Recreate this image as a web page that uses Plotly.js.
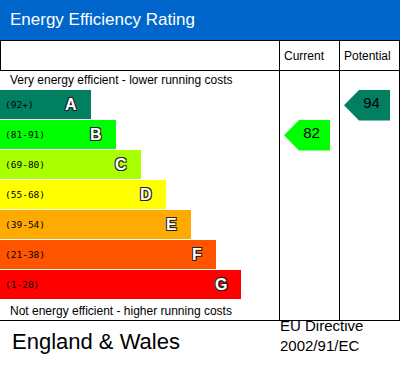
<!DOCTYPE html>
<html><head><meta charset="utf-8">
<script src="https://cdn.plot.ly/plotly-3.0.1.min.js"></script>
<style>html,body{margin:0;padding:0;background:#fff}</style>
</head><body><div id="chart" style="width:400px;height:370px"></div>
<script>
// ---- data ----
const bands = ['A','B','C','D','E','F','G'];
const bandRanges = ['(92+)','(81-91)','(69-80)','(55-68)','(39-54)','(21-38)','(1-20)'];
const bandMins = [92, 81, 69, 55, 39, 21, 1];
const bandSteps = [1, 2, 3, 4, 5, 6, 7];
const bandColors = ['#008060','#00ff00','#aaff00','#ffff00','#ffaa00','#ff5500','#ff0000'];
const columnLabels = ['Current', 'Potential'];
const ratings = [82, 94];
const chartTitle = 'Energy Efficiency Rating';
const topLabel = 'Very energy efficient - lower running costs';
const bottomLabel = 'Not energy efficient - higher running costs';
const regionLabel = 'England & Wales';
const directiveLines = ['EU Directive', '2002/91/EC'];

// ---- layout helpers ----
const W = 400, H = 370;
const px = x => x / W;
const py = y => 1 - y / H;
const FONT = 'Liberation Sans, Arial, sans-serif';
const AXIS_START = -2.64;
const bandIndex = s => bandMins.findIndex(m => s >= m);
const rowIdx = bands.map((_, i) => i);

const traces = [{
  type: 'bar', orientation: 'h',
  y: rowIdx, x: bandSteps.map(s => s - AXIS_START), base: AXIS_START, width: 29 / 30,
  marker: { color: bandColors, line: { width: 0 } },
  hoverinfo: 'skip', xaxis: 'x', yaxis: 'y'
}];

ratings.forEach((score, j) => {
  const idx = bandIndex(score);
  const top = idx - 0.5 + 0.5 / 30, bot = idx + 0.5 + 1 / 30, mid = (top + bot) / 2;
  const xa = j === 0 ? 'x2' : 'x3';
  traces.push({
    type: 'scatter', mode: 'lines', xaxis: xa, yaxis: 'y',
    x: [5, 20, 51, 51, 20, 5], y: [mid, top, top, bot, bot, mid],
    fill: 'toself', fillcolor: bandColors[idx], line: { width: 0 }, hoverinfo: 'skip'
  });
  traces.push({
    type: 'scatter', mode: 'text', xaxis: xa, yaxis: 'y',
    x: [32.5], y: [mid - 0.02], text: [String(score)],
    textfont: { family: FONT, size: 15, color: '#000' }, hoverinfo: 'skip'
  });
});

const line = (x0, y0, x1, y1) => ({
  type: 'line', xref: 'paper', yref: 'paper',
  x0: px(x0), x1: px(x1), y0: py(y0), y1: py(y1),
  line: { color: '#000', width: 1 }
});

const shapes = [
  { type: 'rect', xref: 'paper', yref: 'paper', x0: 0, x1: 1, y0: py(40), y1: 1,
    fillcolor: '#0066cc', line: { width: 0 }, layer: 'below' },
  line(0, 40.5, 400, 40.5),
  line(0, 70.5, 400, 70.5),
  line(0.5, 40.5, 0.5, 70.5),
  line(279.5, 40.5, 279.5, 320.5),
  line(339.5, 40.5, 339.5, 320.5),
  line(399.5, 40.5, 399.5, 320.5),
  line(0, 320.5, 400, 320.5)
];

const ann = (text, x, y, size, color, extra) => Object.assign({
  text, xref: 'paper', yref: 'paper', x: px(x), y: py(y),
  xanchor: 'left', yanchor: 'middle', showarrow: false,
  font: { family: FONT, size, color }
}, extra || {});

const annotations = [
  ann(chartTitle, 8, 19.5, 17, '#fff'),
  ann(columnLabels[0], 282, 55.5, 12, '#000'),
  ann(columnLabels[1], 342, 55.5, 12, '#000'),
  ann(topLabel, 8, 80, 12, '#000'),
  ann(bottomLabel, 8, 310.5, 12, '#000'),
  ann(regionLabel, 9.5, 341, 22, '#000'),
  ann(directiveLines[0], 278, 325, 15, '#000'),
  ann(directiveLines[1], 278, 345, 15, '#000')
];

bands.forEach((b, i) => {
  annotations.push({
    text: bandRanges[i], xref: 'paper', yref: 'y', x: px(3), y: i,
    xanchor: 'left', yanchor: 'middle', showarrow: false,
    font: { family: 'DejaVu Sans Mono, monospace', size: 9.5, color: '#000' }
  });
  annotations.push({
    text: b, xref: 'x', yref: 'y', x: bandSteps[i], y: i, xshift: -12,
    xanchor: 'right', yanchor: 'middle', showarrow: false,
    font: { family: FONT, size: 16, color: '#fff', weight: 'bold',
      shadow: '-1px -1px 0 #222, 1px -1px 0 #222, -1px 1px 0 #222, 1px 1px 0 #222' }
  });
});

const hidden = { visible: false, fixedrange: true };
const layout = {
  width: W, height: H, autosize: false,
  margin: { l: 0, r: 0, t: 0, b: 0, pad: 0 },
  paper_bgcolor: '#fff', plot_bgcolor: 'rgba(0,0,0,0)',
  showlegend: false,
  xaxis: Object.assign({ domain: [0, px(279)], range: [AXIS_START, 8.52] }, hidden),
  xaxis2: Object.assign({ domain: [px(279), px(339)], range: [0, 60], anchor: 'y' }, hidden),
  xaxis3: Object.assign({ domain: [px(339), px(399)], range: [0, 60], anchor: 'y' }, hidden),
  yaxis: Object.assign({ domain: [py(299.5), py(89.5)], range: [6.5, -0.5] }, hidden),
  shapes, annotations
};

Plotly.newPlot('chart', traces, layout, { displayModeBar: false, staticPlot: true });
</script>
</body></html>
